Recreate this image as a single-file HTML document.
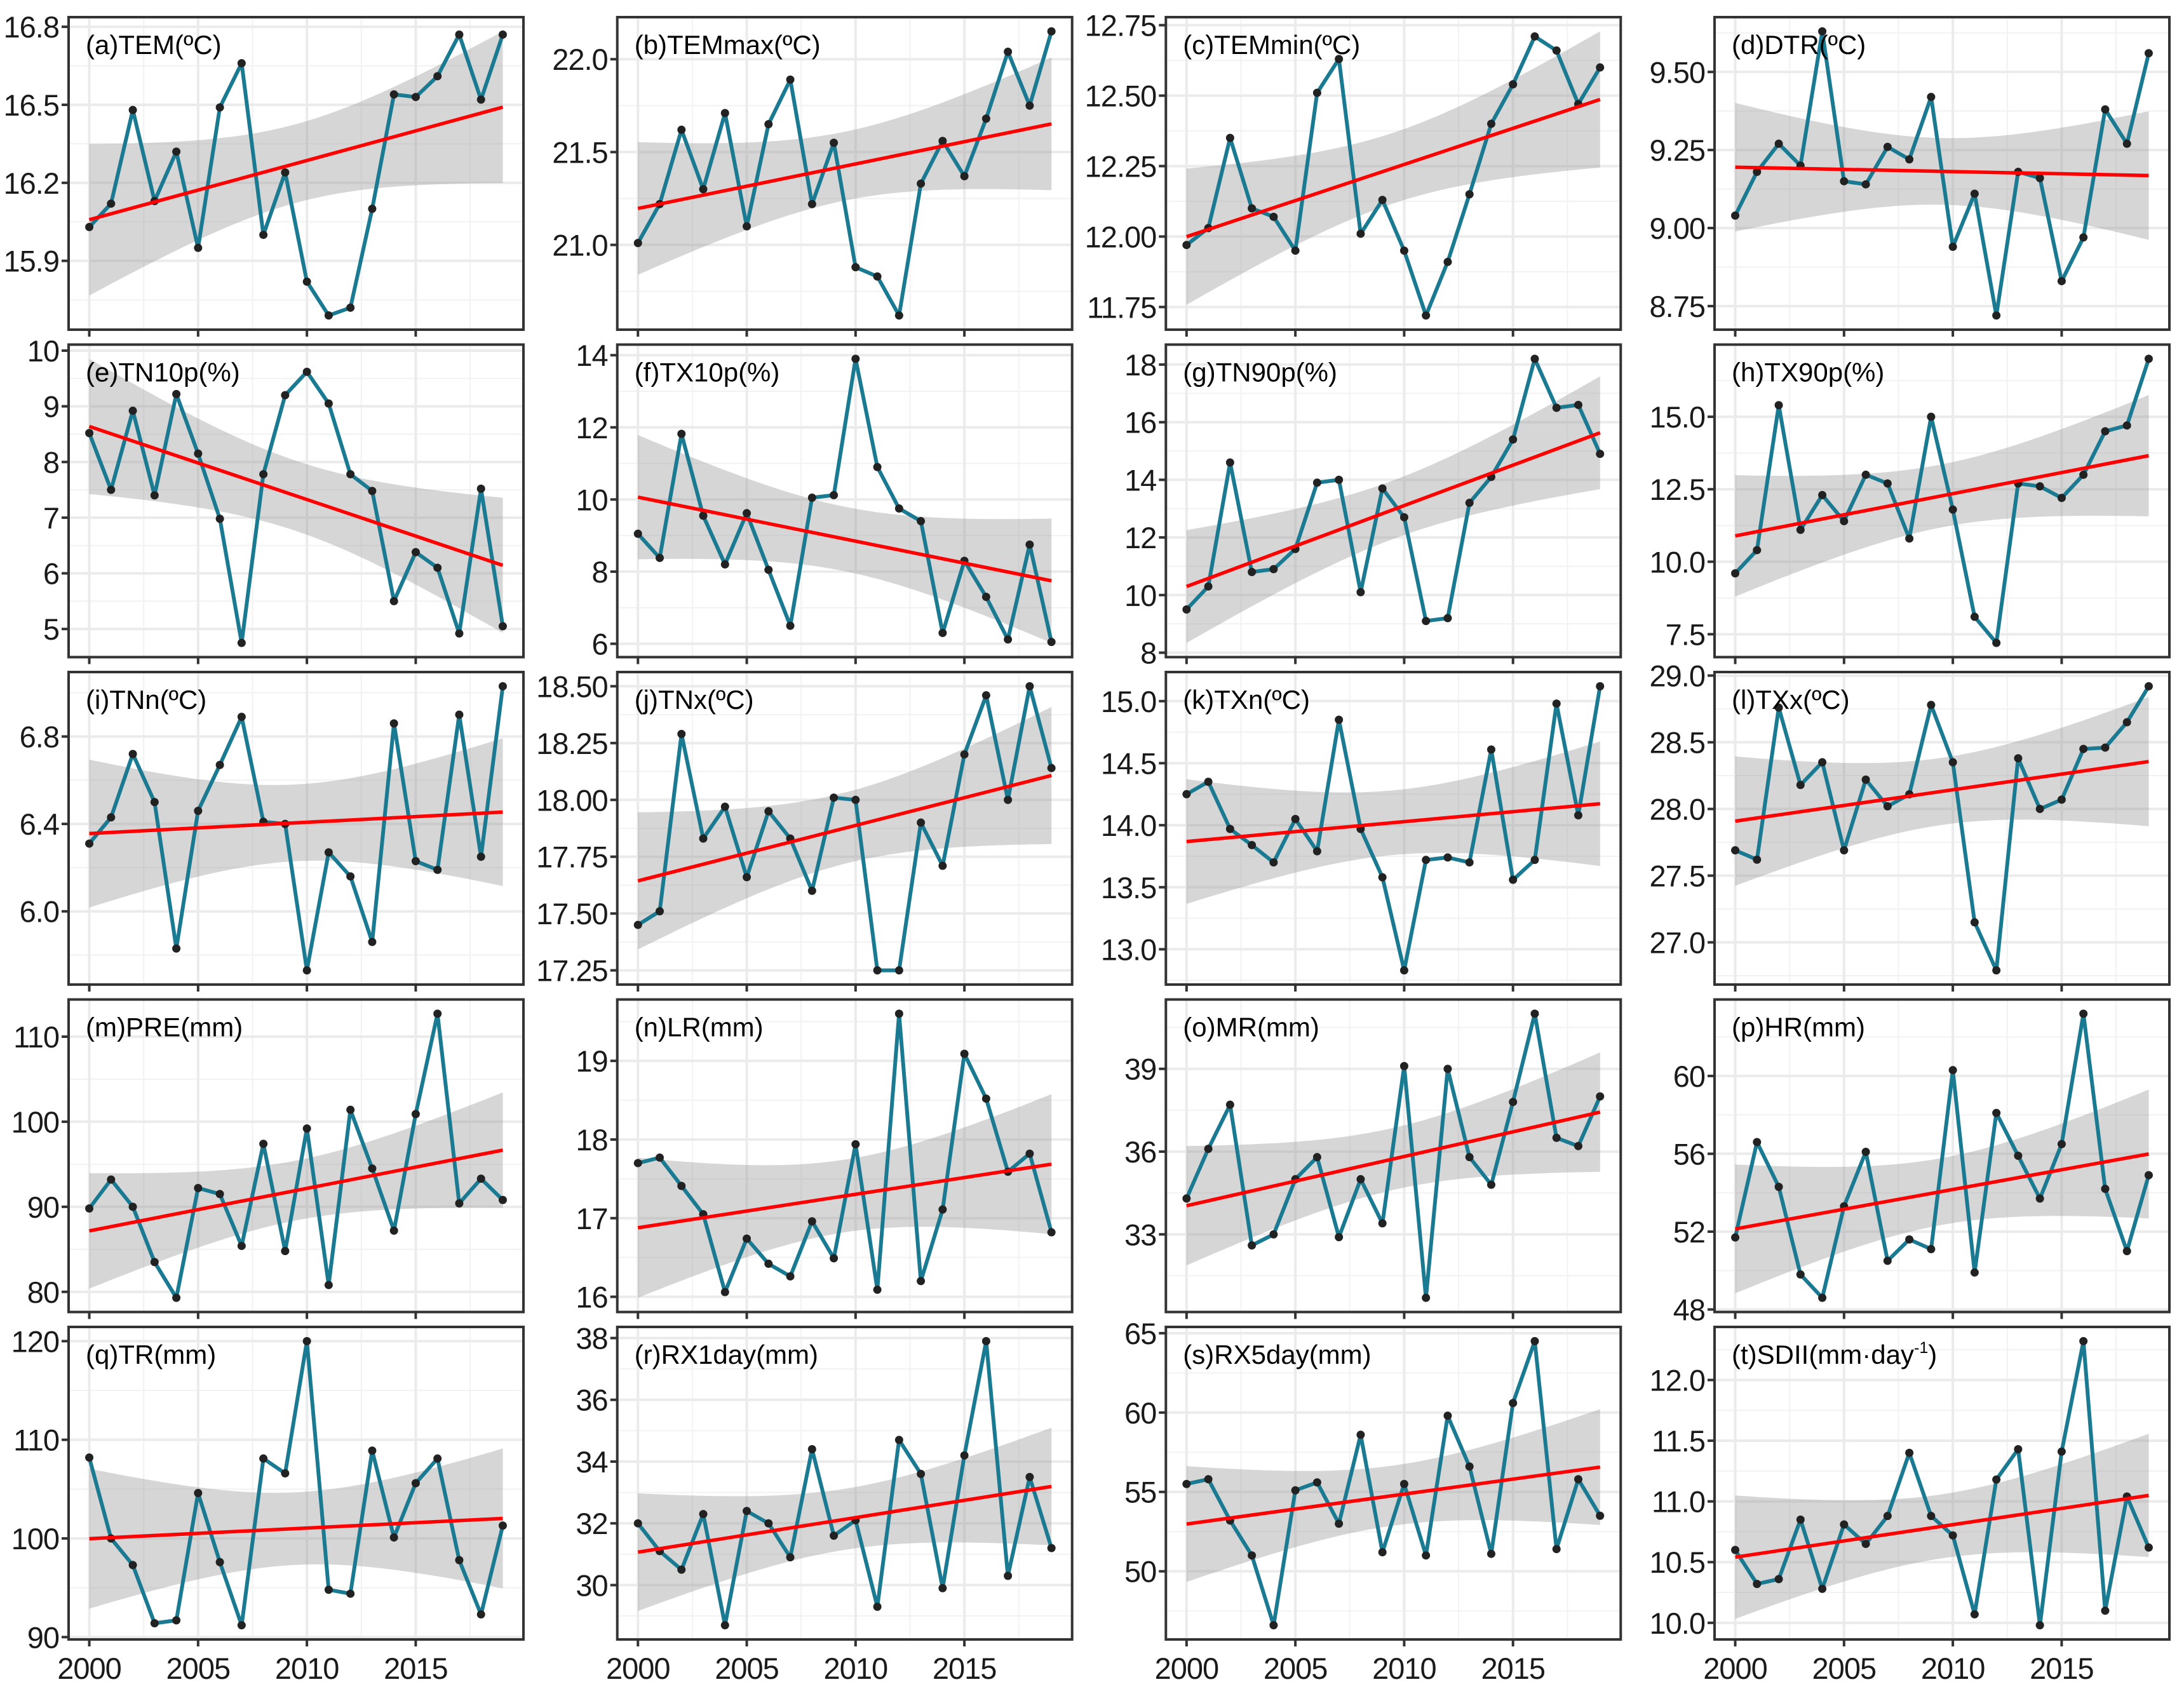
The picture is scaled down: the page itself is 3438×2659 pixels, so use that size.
<!DOCTYPE html>
<html><head><meta charset="utf-8"><style>
html,body{margin:0;padding:0;background:#fff}
svg{display:block}
text{font-family:"Liberation Sans",Arial,sans-serif}
</style></head><body>
<svg id="chart" width="3438" height="2659" viewBox="0 0 3438 2659" xmlns="http://www.w3.org/2000/svg">
<rect x="0" y="0" width="3438" height="2659" fill="#fff"/>
</svg>
<script>
const years = [2000,2001,2002,2003,2004,2005,2006,2007,2008,2009,2010,2011,2012,2013,2014,2015,2016,2017,2018,2019];
const xTicks = [2000,2005,2010,2015];
const panelTitles = ["(a)TEM(ºC)","(b)TEMmax(ºC)","(c)TEMmin(ºC)","(d)DTR(ºC)","(e)TN10p(%)","(f)TX10p(%)","(g)TN90p(%)","(h)TX90p(%)","(i)TNn(ºC)","(j)TNx(ºC)","(k)TXn(ºC)","(l)TXx(ºC)","(m)PRE(mm)","(n)LR(mm)","(o)MR(mm)","(p)HR(mm)","(q)TR(mm)","(r)RX1day(mm)","(s)RX5day(mm)","(t)SDII(mm·day"];
const vTEM = [16.03,16.12,16.48,16.13,16.32,15.95,16.49,16.66,16.00,16.24,15.82,15.69,15.72,16.10,16.54,16.53,16.61,16.77,16.52,16.77];
const vTEMmax = [21.01,21.22,21.62,21.30,21.71,21.10,21.65,21.89,21.22,21.55,20.88,20.83,20.62,21.33,21.56,21.37,21.68,22.04,21.75,22.15];
const vTEMmin = [11.97,12.03,12.35,12.10,12.07,11.95,12.51,12.63,12.01,12.13,11.95,11.72,11.91,12.15,12.40,12.54,12.71,12.66,12.47,12.60];
const vDTR = [9.04,9.18,9.27,9.20,9.63,9.15,9.14,9.26,9.22,9.42,8.94,9.11,8.72,9.18,9.16,8.83,8.97,9.38,9.27,9.56];
const vTN10p = [8.52,7.50,8.92,7.40,9.22,8.15,6.98,4.75,7.78,9.20,9.62,9.05,7.78,7.48,5.50,6.38,6.10,4.92,7.52,5.05];
const vTX10p = [9.05,8.38,11.82,9.55,8.20,9.62,8.05,6.50,10.05,10.12,13.9,10.9,9.75,9.40,6.30,8.30,7.30,6.12,8.75,6.05];
const vTN90p = [9.5,10.3,14.6,10.8,10.9,11.6,13.9,14.0,10.1,13.7,12.7,9.1,9.2,13.2,14.1,15.4,18.2,16.5,16.6,14.9];
const vTX90p = [9.6,10.4,15.4,11.1,12.3,11.4,13.0,12.7,10.8,15.0,11.8,8.1,7.2,12.7,12.6,12.2,13.0,14.5,14.7,17.0];
const vTNn = [6.31,6.43,6.72,6.50,5.83,6.46,6.67,6.89,6.41,6.40,5.73,6.27,6.16,5.86,6.86,6.23,6.19,6.90,6.25,7.03];
const vTNx = [17.45,17.51,18.29,17.83,17.97,17.66,17.95,17.83,17.60,18.01,18.00,17.25,17.25,17.90,17.71,18.20,18.46,18.00,18.50,18.14];
const vTXn = [14.25,14.35,13.97,13.84,13.70,14.05,13.79,14.85,13.97,13.58,12.83,13.72,13.74,13.70,14.61,13.56,13.72,14.98,14.08,15.12];
const vTXx = [27.69,27.62,28.76,28.18,28.35,27.69,28.22,28.02,28.11,28.78,28.35,27.15,26.79,28.38,28.00,28.07,28.45,28.46,28.65,28.92];
const vPRE = [89.8,93.2,90.0,83.5,79.3,92.2,91.5,85.4,97.4,84.8,99.2,80.8,101.4,94.5,87.2,100.9,112.7,90.4,93.3,90.8];
const vLR = [17.70,17.77,17.41,17.05,16.06,16.74,16.42,16.26,16.96,16.49,17.94,16.09,19.60,16.20,17.11,19.09,18.52,17.59,17.82,16.82];
const vMR = [34.3,36.1,37.7,32.6,33.0,35.0,35.8,32.9,35.0,33.4,39.1,30.7,39.0,35.8,34.8,37.8,41.0,36.5,36.2,38.0];
const vHR = [51.7,56.6,54.3,49.8,48.6,53.3,56.1,50.5,51.6,51.1,60.3,49.9,58.1,55.9,53.7,56.5,63.2,54.2,51.0,54.9];
const vTR = [108.2,100.0,97.3,91.4,91.7,104.6,97.6,91.2,108.1,106.6,120.0,94.8,94.4,108.9,100.1,105.6,108.1,97.8,92.3,101.3];
const vRX1day = [32.0,31.1,30.5,32.3,28.7,32.4,32.0,30.9,34.4,31.6,32.1,29.3,34.7,33.6,29.9,34.2,37.9,30.3,33.5,31.2];
const vRX5day = [55.5,55.8,53.2,51.0,46.6,55.1,55.6,53.0,58.6,51.2,55.5,51.0,59.8,56.6,51.1,60.6,64.5,51.4,55.8,53.5];
const vSDII = [10.60,10.32,10.36,10.85,10.28,10.81,10.65,10.88,11.40,10.88,10.72,10.07,11.18,11.43,9.98,11.41,12.32,10.10,11.04,10.62];
const seriesValues = [vTEM,vTEMmax,vTEMmin,vDTR,vTN10p,vTX10p,vTN90p,vTX90p,vTNn,vTNx,vTXn,vTXx,vPRE,vLR,vMR,vHR,vTR,vRX1day,vRX5day,vSDII];
const yTickLabels = [
 ["15.9","16.2","16.5","16.8"],["21.0","21.5","22.0"],["11.75","12.00","12.25","12.50","12.75"],["8.75","9.00","9.25","9.50"],
 ["5","6","7","8","9","10"],["6","8","10","12","14"],["8","10","12","14","16","18"],["7.5","10.0","12.5","15.0"],
 ["6.0","6.4","6.8"],["17.25","17.50","17.75","18.00","18.25","18.50"],["13.0","13.5","14.0","14.5","15.0"],["27.0","27.5","28.0","28.5","29.0"],
 ["80","90","100","110"],["16","17","18","19"],["33","36","39"],["48","52","56","60","64"],
 ["90","100","110","120"],["30","32","34","36","38"],["50","55","60","65"],["10.0","10.5","11.0","11.5","12.0"]
];

const NS = "http://www.w3.org/2000/svg";
const svg = document.getElementById('chart');
function mk(tag, attrs, parent){
  const e = document.createElementNS(NS, tag);
  for (const k in attrs) e.setAttribute(k, attrs[k]);
  (parent||svg).appendChild(e);
  return e;
}
const colLeft = [108, 971.7, 1835.3, 2699];
const rowTop = [27, 542.5, 1058, 1573.5, 2089];
const PW = 716, PH = 492;
const T = 2.101;

seriesValues.forEach((vals, p) => {
  const col = p % 4, row = Math.floor(p / 4);
  const L = colLeft[col], Tp = rowTop[row];
  const g = mk('g', {});
  
  

  const n = vals.length;
  const xm = years.reduce((a,b)=>a+b,0)/n, ym = vals.reduce((a,b)=>a+b,0)/n;
  let sxx=0, sxy=0;
  years.forEach((x,i)=>{sxx+=(x-xm)*(x-xm); sxy+=(x-xm)*(vals[i]-ym);});
  const b = sxy/sxx, a = ym - b*xm;
  let sse=0; years.forEach((x,i)=>{const r=vals[i]-(a+b*x); sse+=r*r;});
  const s = Math.sqrt(sse/(n-2));
  const fitAt = x => a + b*x;
  const ciAt = x => T * s * Math.sqrt(1/n + (x-xm)*(x-xm)/sxx);
  const xs = []; for (let k=0;k<=80;k++) xs.push(years[0] + (years[n-1]-years[0])*k/80);

  let lo = Math.min(...vals), hi = Math.max(...vals);
  xs.forEach(x=>{lo=Math.min(lo,fitAt(x)-ciAt(x)); hi=Math.max(hi,fitAt(x)+ciAt(x));});
  const ex = (hi-lo)*0.05; lo -= ex; hi += ex;
  const X = x => L + (x - 1999.05) / (20.9) * PW;
  const Y = v => Tp + PH - (v - lo) / (hi - lo) * PH;

  const tickVals = yTickLabels[p].map(Number);
  const step = tickVals.length>1 ? tickVals[1]-tickVals[0] : 1;
  for (let t = tickVals[0]-step/2; t <= hi; t += step) {
    if (t < lo) continue;
    const gl = mk('line',{x1:L,x2:L+PW,y1:Y(t),y2:Y(t),stroke:'#f2f2f2','stroke-width':2},g);
    
    
  }
  for (let yr = 2002.5; yr < 2020; yr += 5) {
    const gl = mk('line',{x1:X(yr),x2:X(yr),y1:Tp,y2:Tp+PH,stroke:'#f2f2f2','stroke-width':2},g);
    
    
  }
  tickVals.forEach(t=>{
    if (t<lo||t>hi) return;
    const gl = mk('line',{x1:L,x2:L+PW,y1:Y(t),y2:Y(t),stroke:'#ebebeb','stroke-width':4},g);
    
    
  });
  xTicks.forEach(t=>{
    const gl = mk('line',{x1:X(t),x2:X(t),y1:Tp,y2:Tp+PH,stroke:'#ebebeb','stroke-width':4},g);
    
    
  });

  let d = xs.map((x,i)=>(i?'L':'M')+X(x).toFixed(1)+','+Y(fitAt(x)+ciAt(x)).toFixed(1)).join('');
  d += xs.slice().reverse().map(x=>'L'+X(x).toFixed(1)+','+Y(fitAt(x)-ciAt(x)).toFixed(1)).join('') + 'Z';
  const rib = mk('path',{d:d,fill:'#999999','fill-opacity':0.4},g);
  
  

  const ld = vals.map((v,i)=>(i?'L':'M')+X(years[i]).toFixed(1)+','+Y(v).toFixed(1)).join('');
  const line = mk('path',{d:ld,fill:'none',stroke:'#1a7a92','stroke-width':6,'stroke-linejoin':'round'},g);
  
  
  vals.forEach((v,i)=>{
    const c = mk('circle',{cx:X(years[i]),cy:Y(v),r:6.5,fill:'#222'},g);
    
    
  });

  const tl = mk('line',{x1:X(years[0]),y1:Y(fitAt(years[0])),x2:X(years[n-1]),y2:Y(fitAt(years[n-1])),stroke:'#ff0000','stroke-width':5.5},g);
  
  

  const br = mk('rect',{x:L,y:Tp,width:PW,height:PH,fill:'none',stroke:'#333','stroke-width':4},g);
  
  

  yTickLabels[p].forEach(lbl=>{
    const t = Number(lbl);
    if (t<lo||t>hi) return;
    const tk = mk('line',{x1:L-11,x2:L,y1:Y(t),y2:Y(t),stroke:'#333','stroke-width':4},g);
    
    
    const tx = mk('text',{x:L-15,y:Y(t)+17,'text-anchor':'end','font-size':47,'letter-spacing':'-1',fill:'#1a1a1a'},g);
    tx.textContent = lbl;
    
    
  });
  xTicks.forEach(t=>{
    const tk = mk('line',{x1:X(t),x2:X(t),y1:Tp+PH,y2:Tp+PH+11,stroke:'#333','stroke-width':4},g);
    
    
    if (row === 4) {
      const tx = mk('text',{x:X(t),y:Tp+PH+62,'text-anchor':'middle','font-size':47,'letter-spacing':'-1',fill:'#1a1a1a'},g);
      tx.textContent = String(t);
      
      
    }
  });

  const tt = mk('text',{x:L+27,y:Tp+58,'font-size':42,fill:'#000'},g);
  tt.textContent = panelTitles[p];
  
  
  if (p === 19) {
    const sup = mk('tspan',{'font-size':25,dy:-17},tt);
    sup.textContent = '-1';
    const cl = mk('tspan',{dy:17},tt);
    cl.textContent = ')';
  }
});
</script>
</body></html>
